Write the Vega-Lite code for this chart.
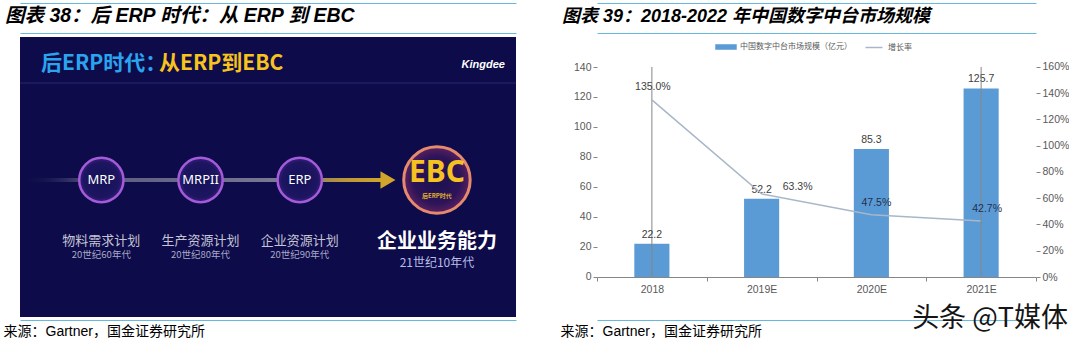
{
  "$schema": "https://vega.github.io/schema/vega-lite/v6.json",
  "background": "white",
  "padding": {"left": 3, "top": 3, "right": 0, "bottom": 0},
  "bounds": "flush",
  "spacing": 81,
  "resolve": {"scale": {"color": "independent"}, "legend": {"color": "independent"}},
  "config": {
    "view": {"stroke": null},
    "font": "Liberation Sans, Noto Sans CJK SC",
    "axis": {"labelFont": "Liberation Sans, Noto Sans CJK SC", "titleFont": "Liberation Sans, Noto Sans CJK SC"},
    "legend": {"labelFont": "Noto Sans CJK SC"}
  },
  "datasets": {
    "stages": [
      {"stage": "MRP", "name": "物料需求计划", "era": "20世纪60年代"},
      {"stage": "MRPII", "name": "生产资源计划", "era": "20世纪80年代"},
      {"stage": "ERP", "name": "企业资源计划", "era": "20世纪90年代"},
      {"stage": "EBC", "name": "企业业务能力", "era": "21世纪10年代", "sub": "后ERP时代"}
    ],
    "market": [
      {"year": "2018", "size": 22.2, "growth": 1.35},
      {"year": "2019E", "size": 52.2, "growth": 0.633},
      {"year": "2020E", "size": 85.3, "growth": 0.475},
      {"year": "2021E", "size": 125.7, "growth": 0.427}
    ]
  },
  "hconcat": [
    {
      "width": 496,
      "height": 280,
      "view": {"fill": "#0d0b49", "stroke": null},
      "title": {"text": "图表 38：后 ERP 时代：从 ERP 到 EBC", "anchor": "start", "frame": "group", "dx": -15, "offset": -23, "font": "Liberation Sans, Noto Sans CJK SC", "fontSize": 19.5, "fontStyle": "italic", "fontWeight": "bold", "color": "#000000"},
      "data": {"name": "stages"},
      "resolve": {"axis": {"x": "independent"}},
      "layer": [
        {
          "mark": {"type": "point", "opacity": 0},
          "encoding": {"x": {"field": "stage", "type": "nominal", "scale": {"type": "point", "domain": ["MRP", "MRPII", "ERP", "EBC"], "padding": 1.07, "align": 0.41}, "axis": {"orient": "top", "offset": 4, "domainColor": "#66b8dd", "domainWidth": 1, "ticks": false, "labels": false, "grid": false, "title": null}}, "y": {"value": 10}}
        },
        {
          "mark": {"type": "point", "opacity": 0},
          "encoding": {"x": {"field": "stage", "type": "nominal", "axis": {"orient": "top", "offset": 34, "domainColor": "#66b8dd", "domainWidth": 1, "ticks": false, "labels": false, "grid": false, "title": null}}, "y": {"value": 10}}
        },
        {
          "mark": {"type": "point", "opacity": 0},
          "encoding": {"x": {"field": "stage", "type": "nominal", "axis": {"orient": "bottom", "offset": 3, "domainColor": "#66b8dd", "domainWidth": 1, "ticks": false, "labels": false, "grid": false, "title": "来源：Gartner，国金证券研究所", "titleX": -17, "titleY": 11, "titleAlign": "left", "titleBaseline": "middle", "titleFontSize": 14, "titleFontWeight": "normal", "titleColor": "#000000"}}, "y": {"value": 10}}
        },
        {
          "data": {"values": [{}]},
          "mark": {"type": "rule", "color": "#2a2870", "strokeWidth": 1},
          "encoding": {"x": {"value": 0}, "x2": {"value": 496}, "y": {"value": 46}}
        },
        {
          "data": {"values": [{}]},
          "mark": {"type": "text", "text": "后ERP时代：", "x": 21, "y": 27, "align": "left", "baseline": "middle", "font": "Noto Sans CJK SC", "fontSize": 21, "fontWeight": "bold", "color": "#2aa4ef"},
          "encoding": {}
        },
        {
          "data": {"values": [{}]},
          "mark": {"type": "text", "text": "从ERP到EBC", "x": 139, "y": 27, "align": "left", "baseline": "middle", "font": "Noto Sans CJK SC", "fontSize": 21, "fontWeight": "bold", "color": "#f7c31c"},
          "encoding": {}
        },
        {
          "data": {"values": [{}]},
          "mark": {"type": "text", "text": "Kingdee", "x": 485, "y": 28, "align": "right", "baseline": "middle", "font": "Liberation Sans", "fontSize": 11, "fontWeight": "bold", "fontStyle": "italic", "color": "#ffffff"},
          "encoding": {}
        },
        {
          "data": {"values": [{}]},
          "mark": {"type": "rect", "xOffset": -80, "fill": {"gradient": "linear", "x1": 0, "x2": 1, "y1": 0, "y2": 0, "stops": [{"offset": 0, "color": "rgba(14,11,75,0)"}, {"offset": 0.25, "color": "#5a5a80"}, {"offset": 1, "color": "#7c7c96"}]}},
          "encoding": {"x": {"datum": "MRP", "type": "nominal", "axis": null}, "x2": {"datum": "ERP"}, "y": {"value": 141}, "y2": {"value": 145}}
        },
        {
          "data": {"values": [{}]},
          "mark": {"type": "rect", "x2Offset": -14, "fill": {"gradient": "linear", "x1": 0, "x2": 1, "y1": 0, "y2": 0, "stops": [{"offset": 0, "color": "#7a7a80"}, {"offset": 0.5, "color": "#b8953a"}, {"offset": 1, "color": "#d1a52c"}]}},
          "encoding": {"x": {"datum": "ERP", "type": "nominal", "axis": null}, "x2": {"datum": "EBC"}, "y": {"value": 141}, "y2": {"value": 145}}
        },
        {
          "data": {"values": [{}]},
          "mark": {"type": "point", "shape": "triangle-right", "filled": true, "size": 300, "xOffset": -11, "color": "#d1a52c", "opacity": 1},
          "encoding": {"x": {"datum": "EBC", "type": "nominal", "axis": null}, "y": {"value": 143}}
        },
        {
          "transform": [{"filter": "datum.stage !== 'EBC'"}],
          "mark": {"type": "point", "shape": "circle", "filled": true, "size": 1963, "opacity": 1, "stroke": "#a45bd8", "strokeWidth": 2.5, "fill": {"gradient": "radial", "stops": [{"offset": 0, "color": "#14115a"}, {"offset": 0.8, "color": "#1d1560"}, {"offset": 1, "color": "#3a2080"}]}},
          "encoding": {"x": {"field": "stage", "type": "nominal", "axis": null}, "y": {"value": 143}}
        },
        {
          "transform": [{"filter": "datum.stage === 'EBC'"}],
          "mark": {"type": "point", "shape": "circle", "filled": true, "size": 4418, "opacity": 1, "xOffset": 38, "stroke": "#e58a6d", "strokeWidth": 3, "fill": {"gradient": "radial", "stops": [{"offset": 0, "color": "#1a1150"}, {"offset": 0.7, "color": "#2c1458"}, {"offset": 1, "color": "#5a2060"}]}},
          "encoding": {"x": {"field": "stage", "type": "nominal", "axis": null}, "y": {"value": 143}}
        },
        {
          "transform": [{"filter": "datum.stage !== 'EBC'"}],
          "mark": {"type": "text", "font": "Noto Sans", "fontSize": 13, "color": "#ffffff", "baseline": "middle"},
          "encoding": {"x": {"field": "stage", "type": "nominal", "axis": null}, "y": {"value": 143}, "text": {"field": "stage"}}
        },
        {
          "transform": [{"filter": "datum.stage === 'EBC'"}],
          "mark": {"type": "text", "font": "Noto Sans", "fontSize": 30, "fontWeight": "bold", "color": "#f5c21f", "baseline": "middle", "dx": 38},
          "encoding": {"x": {"field": "stage", "type": "nominal", "axis": null}, "y": {"value": 136}, "text": {"field": "stage"}}
        },
        {
          "transform": [{"filter": "datum.stage === 'EBC'"}],
          "mark": {"type": "text", "font": "Noto Sans CJK SC", "fontSize": 6, "fontWeight": "bold", "color": "#e0b030", "baseline": "middle", "dx": 38},
          "encoding": {"x": {"field": "stage", "type": "nominal", "axis": null}, "y": {"value": 159}, "text": {"field": "sub"}}
        },
        {
          "transform": [{"filter": "datum.stage !== 'EBC'"}],
          "mark": {"type": "text", "font": "Noto Sans CJK SC", "fontSize": 13, "color": "#c4c4d6", "baseline": "middle"},
          "encoding": {"x": {"field": "stage", "type": "nominal", "axis": null}, "y": {"value": 204}, "text": {"field": "name"}}
        },
        {
          "transform": [{"filter": "datum.stage !== 'EBC'"}],
          "mark": {"type": "text", "font": "Noto Sans CJK SC", "fontSize": 9.5, "color": "#a9a9c8", "baseline": "middle"},
          "encoding": {"x": {"field": "stage", "type": "nominal", "axis": null}, "y": {"value": 218}, "text": {"field": "era"}}
        },
        {
          "transform": [{"filter": "datum.stage === 'EBC'"}],
          "mark": {"type": "text", "font": "Noto Sans CJK SC", "fontSize": 20, "fontWeight": "bold", "color": "#ffffff", "baseline": "middle", "dx": 38},
          "encoding": {"x": {"field": "stage", "type": "nominal", "axis": null}, "y": {"value": 205}, "text": {"field": "name"}}
        },
        {
          "transform": [{"filter": "datum.stage === 'EBC'"}],
          "mark": {"type": "text", "font": "Noto Sans CJK SC", "fontSize": 12, "color": "#b9bde6", "baseline": "middle", "dx": 38},
          "encoding": {"x": {"field": "stage", "type": "nominal", "axis": null}, "y": {"value": 226}, "text": {"field": "era"}}
        }
      ]
    },
    {
      "width": 439,
      "height": 280,
      "title": {"text": "图表 39：2018-2022 年中国数字中台市场规模", "anchor": "start", "frame": "group", "dx": -35, "offset": -23, "font": "Liberation Sans, Noto Sans CJK SC", "fontSize": 18, "fontStyle": "italic", "fontWeight": "bold", "color": "#000000"},
      "data": {"name": "market"},
      "resolve": {"scale": {"y": "independent"}, "axis": {"x": "independent", "y": "independent"}},
      "layer": [
        {
          "mark": {"type": "point", "opacity": 0},
          "encoding": {"x": {"field": "year", "type": "nominal", "scale": {"type": "band", "paddingInner": 0, "paddingOuter": 0}, "axis": {"orient": "top", "offset": 4, "domainColor": "#66b8dd", "domainWidth": 1, "ticks": false, "labels": false, "grid": false, "title": null}}, "y": {"value": 10}}
        },
        {
          "mark": {"type": "point", "opacity": 0},
          "encoding": {"x": {"field": "year", "type": "nominal", "axis": {"orient": "top", "offset": 34, "domainColor": "#66b8dd", "domainWidth": 1, "ticks": false, "labels": false, "grid": false, "title": null}}, "y": {"value": 10}}
        },
        {
          "mark": {"type": "point", "opacity": 0},
          "encoding": {"x": {"field": "year", "type": "nominal", "axis": {"orient": "bottom", "offset": 3, "domainColor": "#66b8dd", "domainWidth": 1, "ticks": false, "labels": false, "grid": false, "title": "来源：Gartner，国金证券研究所", "titleX": -37, "titleY": 11, "titleAlign": "left", "titleBaseline": "middle", "titleFontSize": 14, "titleFontWeight": "normal", "titleColor": "#000000"}}, "y": {"value": 10}}
        },
        {
          "mark": {"type": "bar", "width": {"band": 0.32}},
          "encoding": {
            "x": {"field": "year", "type": "nominal", "axis": {"orient": "bottom", "offset": -40, "title": null, "labelAngle": 0, "labelFontSize": 10.5, "labelColor": "#595959", "domainColor": "#868686", "tickColor": "#868686", "tickSize": 4, "tickBand": "extent", "labelPadding": 3, "grid": false}},
            "y": {"field": "size", "type": "quantitative", "scale": {"domain": [-26.6667, 160], "nice": false, "zero": false}, "axis": {"orient": "left", "values": [0, 20, 40, 60, 80, 100, 120, 140], "title": null, "grid": false, "domain": false, "labelFontSize": 10.5, "labelColor": "#595959", "tickColor": "#868686", "tickSize": 4, "labelPadding": 2}},
            "y2": {"datum": 0},
            "color": {
              "datum": "中国数字中台市场规模（亿元）",
              "scale": {"domain": ["中国数字中台市场规模（亿元）", "增长率"], "range": ["#5b9bd5", "#a8b7c7"]},
              "legend": {
                "orient": "none", "legendX": 118, "legendY": -1, "direction": "horizontal", "title": null,
                "labelFont": "Noto Sans CJK SC", "labelFontSize": 8, "labelColor": "#595959",
                "symbolSize": 400, "columnSpacing": 23, "labelOffset": 3,
                "encode": {"symbols": {"update": {
                  "shape": {"signal": "datum.value === '增长率' ? 'M-0.85,0H0.85' : 'M-1,-0.2H1V0.2H-1Z'"},
                  "fill": {"signal": "datum.value === '增长率' ? 'transparent' : '#5b9bd5'"},
                  "stroke": {"signal": "datum.value === '增长率' ? '#a8b7c7' : 'transparent'"},
                  "strokeWidth": {"value": 1.5},
                  "opacity": {"value": 1}
                }}}
              }
            }
          }
        },
        {
          "data": {"values": [{}]},
          "mark": {"type": "rule", "color": "#868686", "strokeWidth": 1},
          "encoding": {
            "x": {"datum": "2018", "type": "nominal", "band": 0, "axis": null},
            "y": {"datum": 0, "type": "quantitative", "scale": {"domain": [-26.6667, 160], "nice": false, "zero": false}, "axis": null},
            "y2": {"datum": 140}
          }
        },
        {
          "mark": {"type": "text", "dy": -9, "fontSize": 10.5, "color": "#404040", "baseline": "middle", "font": "Liberation Sans"},
          "encoding": {
            "x": {"field": "year", "type": "nominal", "axis": null},
            "y": {"field": "size", "type": "quantitative", "scale": {"domain": [-26.6667, 160], "nice": false, "zero": false}, "axis": null},
            "text": {"field": "size", "type": "quantitative", "format": ".1f"}
          }
        },
        {
          "mark": {"type": "line", "interpolate": "linear", "strokeWidth": 1.5},
          "encoding": {
            "x": {"field": "year", "type": "nominal", "axis": null},
            "y": {"field": "growth", "type": "quantitative", "scale": {"domain": [-0.304762, 1.828571], "nice": false, "zero": false}, "axis": {"orient": "right", "values": [0, 0.2, 0.4, 0.6, 0.8, 1.0, 1.2, 1.4, 1.6], "format": ".0%", "title": null, "grid": false, "domain": false, "labelFontSize": 10.5, "labelColor": "#595959", "tickColor": "#868686", "tickSize": 4, "labelPadding": 2}},
            "color": {"datum": "增长率"}
          }
        },
        {
          "data": {"values": [{}]},
          "mark": {"type": "rule", "color": "#868686", "strokeWidth": 1},
          "encoding": {
            "x": {"datum": "2021E", "type": "nominal", "band": 1, "axis": null},
            "y": {"datum": 0, "type": "quantitative", "scale": {"domain": [-0.304762, 1.828571], "nice": false, "zero": false}, "axis": null},
            "y2": {"datum": 1.6}
          }
        },
        {
          "transform": [{"filter": "datum.year === '2018'"}],
          "mark": {"type": "text", "dy": -13, "dx": 1, "fontSize": 10.5, "color": "#404040", "baseline": "middle", "font": "Liberation Sans"},
          "encoding": {"x": {"field": "year", "type": "nominal", "axis": null}, "y": {"field": "growth", "type": "quantitative", "scale": {"domain": [-0.304762, 1.828571], "nice": false, "zero": false}, "axis": null}, "text": {"field": "growth", "type": "quantitative", "format": ".1%"}}
        },
        {
          "transform": [{"filter": "datum.year === '2019E'"}],
          "mark": {"type": "text", "dy": -7, "dx": 36, "fontSize": 10.5, "color": "#404040", "baseline": "middle", "font": "Liberation Sans"},
          "encoding": {"x": {"field": "year", "type": "nominal", "axis": null}, "y": {"field": "growth", "type": "quantitative", "scale": {"domain": [-0.304762, 1.828571], "nice": false, "zero": false}, "axis": null}, "text": {"field": "growth", "type": "quantitative", "format": ".1%"}}
        },
        {
          "transform": [{"filter": "datum.year === '2020E'"}],
          "mark": {"type": "text", "dy": -12, "dx": 5, "fontSize": 10.5, "color": "#1f3050", "baseline": "middle", "font": "Liberation Sans"},
          "encoding": {"x": {"field": "year", "type": "nominal", "axis": null}, "y": {"field": "growth", "type": "quantitative", "scale": {"domain": [-0.304762, 1.828571], "nice": false, "zero": false}, "axis": null}, "text": {"field": "growth", "type": "quantitative", "format": ".1%"}}
        },
        {
          "transform": [{"filter": "datum.year === '2021E'"}],
          "mark": {"type": "text", "dy": -12, "dx": 6, "fontSize": 10.5, "color": "#1f3050", "baseline": "middle", "font": "Liberation Sans"},
          "encoding": {"x": {"field": "year", "type": "nominal", "axis": null}, "y": {"field": "growth", "type": "quantitative", "scale": {"domain": [-0.304762, 1.828571], "nice": false, "zero": false}, "axis": null}, "text": {"field": "growth", "type": "quantitative", "format": ".1%"}}
        },
        {
          "data": {"values": [{}]},
          "mark": {"type": "text", "text": "头条 @T媒体", "x": 393, "y": 282, "align": "center", "baseline": "middle", "font": "Noto Sans CJK SC", "fontSize": 27, "color": "#151515"},
          "encoding": {}
        }
      ]
    }
  ]
}
